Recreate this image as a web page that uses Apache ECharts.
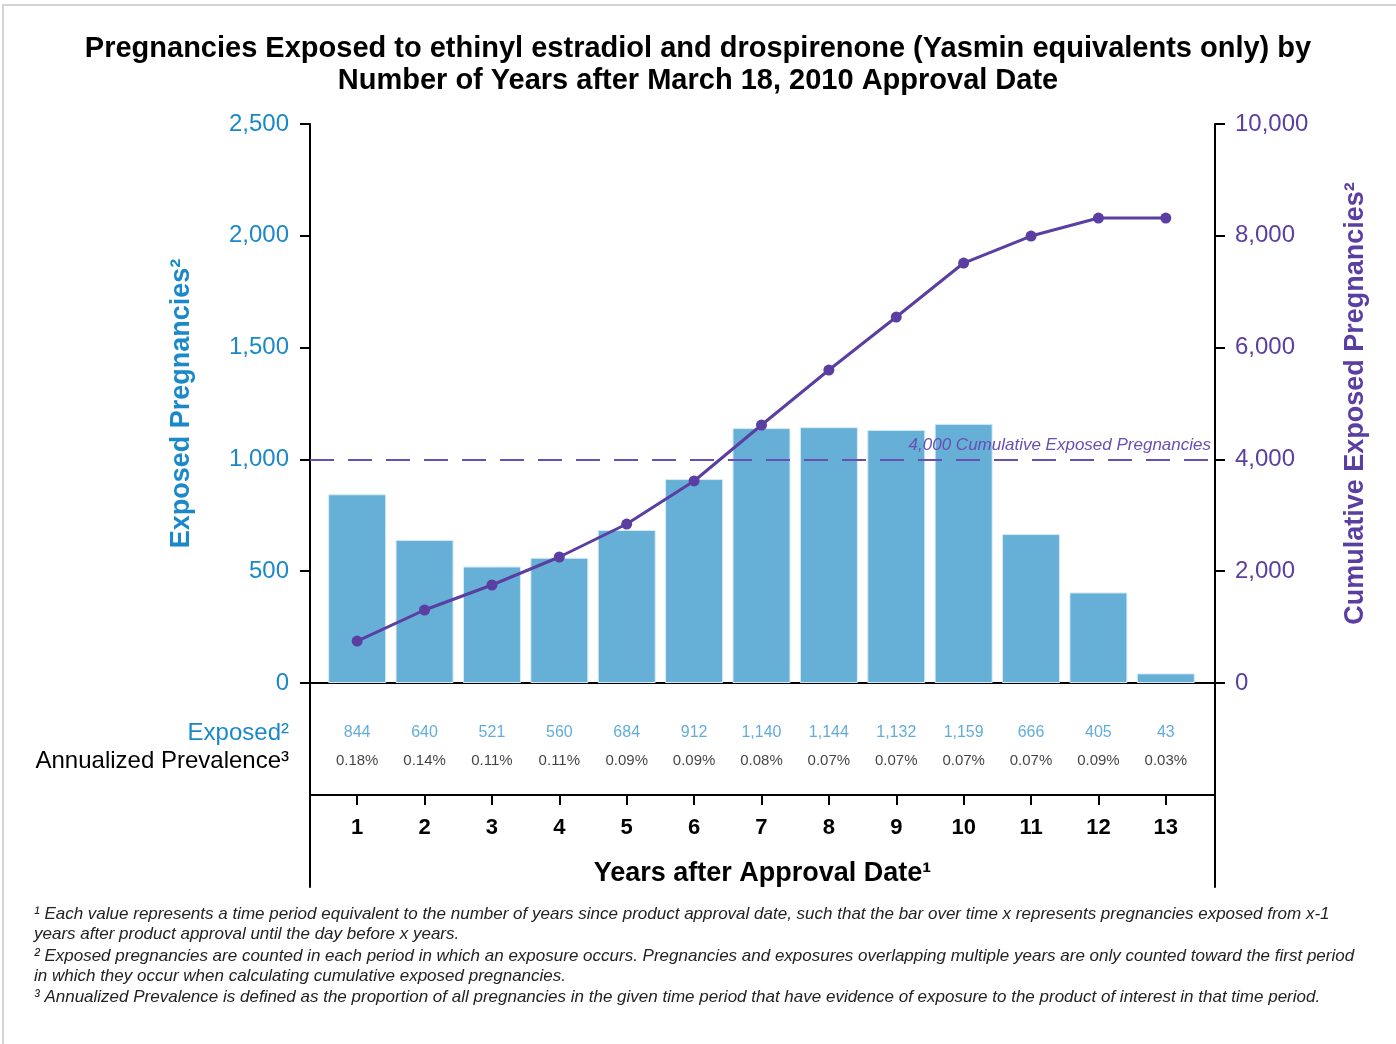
<!DOCTYPE html>
<html>
<head>
<meta charset="utf-8">
<script src="https://cdn.jsdelivr.net/npm/echarts@6/dist/echarts.min.js"></script>
<style>
html,body{margin:0;padding:0;background:#fff;}
#c{width:1396px;height:1044px;}
</style>
</head>
<body>
<div id="c"></div>
<script>
const years = [1,2,3,4,5,6,7,8,9,10,11,12,13];
const exposed = [844,640,521,560,684,912,1140,1144,1132,1159,666,405,43];
const cumulative = [751,1306,1753,2254,2844,3614,4615,5599,6547,7513,7996,8318,8318];
const prevalence = [0.18,0.14,0.11,0.11,0.09,0.09,0.08,0.07,0.07,0.07,0.07,0.09,0.03];
const threshold = 4000;
const titleText = 'Pregnancies Exposed to ethinyl estradiol and drospirenone (Yasmin equivalents only) by\nNumber of Years after March 18, 2010 Approval Date';
const footnotes = [
  '¹ Each value represents a time period equivalent to the number of years since product approval date, such that the bar over time x represents pregnancies exposed from x-1',
  'years after product approval until the day before x years.',
  '² Exposed pregnancies are counted in each period in which an exposure occurs. Pregnancies and exposures overlapping multiple years are only counted toward the first period',
  'in which they occur when calculating cumulative exposed pregnancies.',
  '³ Annualized Prevalence is defined as the proportion of all pregnancies in the given time period that have evidence of exposure to the product of interest in that time period.'
];
const footY = [913,933,955,975,996];

const FONT = '"Liberation Sans", Arial, Helvetica, sans-serif';
const BLUE = '#1a88c9';
const PURPLE = '#5a3ea1';
const BAR = '#66afd6';
const EXP_ROW = 62, PREV_ROW = 34;
const fmt = v => v.toLocaleString('en-US');

const lineOnlyAxis = (grid, pos) => ({
  type: 'value', gridIndex: grid, position: pos, min: 0, max: 1,
  axisLine: {show: true, onZero: false, lineStyle: {color: '#000', width: 2}},
  axisTick: {show: false}, axisLabel: {show: false}, splitLine: {show: false}
});

const chart = echarts.init(document.getElementById('c'));
const option = {
  backgroundColor: '#fff',
  animation: false,
  textStyle: {fontFamily: FONT},
  title: {
    text: titleText, left: 'center', top: 28,
    textStyle: {fontFamily: FONT, fontSize: 29, fontWeight: 'bold', color: '#000', lineHeight: 32}
  },
  grid: [
    {left: 310, top: 124, width: 905, height: 559},
    {left: 310, top: 683, width: 905, height: 112},
    {left: 310, top: 795, width: 905, height: 92}
  ],
  xAxis: [
    {type: 'value', gridIndex: 0, min: 0.3, max: 13.73,
     axisLine: {show: true, onZero: false, lineStyle: {color: '#000', width: 2}},
     axisTick: {show: false}, axisLabel: {show: false}, splitLine: {show: false}},
    {type: 'value', gridIndex: 1, min: 0.3, max: 13.73, position: 'bottom',
     axisLine: {show: true, onZero: false, lineStyle: {color: '#000', width: 2}},
     axisTick: {show: true, length: 10, inside: false, customValues: years, lineStyle: {color: '#000', width: 2}},
     axisLabel: {show: true, customValues: years, margin: 22, fontSize: 22, fontWeight: 'bold', color: '#000', fontFamily: FONT},
     splitLine: {show: false},
     name: 'Years after Approval Date¹', nameLocation: 'middle', nameGap: 65,
     nameTextStyle: {fontSize: 27, fontWeight: 'bold', color: '#000', fontFamily: FONT}},
    {type: 'value', gridIndex: 2, min: 0, max: 1, show: false}
  ],
  yAxis: [
    {type: 'value', gridIndex: 0, position: 'left', min: 0, max: 2500, interval: 500,
     axisLine: {show: true, lineStyle: {color: '#000', width: 2}},
     axisTick: {show: true, length: 10, lineStyle: {color: '#000', width: 2}},
     axisLabel: {margin: 21, fontSize: 24, color: BLUE, fontFamily: FONT, formatter: v => fmt(v)},
     splitLine: {show: false},
     name: 'Exposed Pregnancies²', nameLocation: 'middle', nameGap: 115,
     nameTextStyle: {fontSize: 27, fontWeight: 'bold', color: BLUE, fontFamily: FONT}},
    {type: 'value', gridIndex: 0, position: 'right', min: 0, max: 10000, interval: 2000,
     axisLine: {show: true, lineStyle: {color: '#000', width: 2}},
     axisTick: {show: true, length: 10, lineStyle: {color: '#000', width: 2}},
     axisLabel: {margin: 20, fontSize: 24, color: PURPLE, fontFamily: FONT, formatter: v => fmt(v)},
     splitLine: {show: false},
     name: 'Cumulative Exposed Pregnancies²', nameLocation: 'middle', nameGap: 127, nameRotate: 90,
     nameTextStyle: {fontSize: 27, fontWeight: 'bold', color: PURPLE, fontFamily: FONT}},
    {type: 'value', gridIndex: 1, position: 'left', min: 0, max: 112,
     axisLine: {show: true, onZero: false, lineStyle: {color: '#000', width: 2}},
     axisTick: {show: false},
     axisLabel: {show: true, customValues: [EXP_ROW, PREV_ROW], margin: 21, fontFamily: FONT,
       formatter: v => v === EXP_ROW ? '{a|Exposed²}' : '{b|Annualized Prevalence³}',
       rich: {a: {fontSize: 24, color: BLUE, fontFamily: FONT}, b: {fontSize: 24, color: '#000', fontFamily: FONT}}},
     splitLine: {show: false}},
    {type: 'value', gridIndex: 1, position: 'right', min: 0, max: 112,
     axisLine: {show: true, onZero: false, lineStyle: {color: '#000', width: 2}},
     axisTick: {show: false}, axisLabel: {show: false}, splitLine: {show: false}},
    lineOnlyAxis(2, 'left'),
    lineOnlyAxis(2, 'right')
  ],
  series: [
    {type: 'bar', xAxisIndex: 0, yAxisIndex: 0, barWidth: 58,
     data: years.map((y, i) => [y, exposed[i]]),
     itemStyle: {color: BAR, borderColor: '#d6ebf6', borderWidth: 1}},
    {type: 'line', xAxisIndex: 0, yAxisIndex: 1,
     data: years.map((y, i) => [y, cumulative[i]]),
     symbol: 'circle', symbolSize: 11,
     lineStyle: {color: PURPLE, width: 3}, itemStyle: {color: PURPLE},
     markLine: {
       silent: true, symbol: ['none', 'none'],
       lineStyle: {color: '#6a4fb3', width: 2, type: [24, 14]},
       label: {show: true, position: 'insideEndTop', formatter: fmt(threshold) + ' Cumulative Exposed Pregnancies',
               fontSize: 17, fontStyle: 'italic', color: '#6a4fb3', fontFamily: FONT, distance: [4, 6]},
       data: [{yAxis: threshold}]
     }},
    {type: 'scatter', xAxisIndex: 1, yAxisIndex: 2, symbolSize: 0,
     data: years.map((y, i) => [y, EXP_ROW, exposed[i]]),
     label: {show: true, position: 'inside', fontSize: 16, color: '#3a98cf', fontFamily: FONT,
             formatter: p => fmt(p.value[2])}},
    {type: 'scatter', xAxisIndex: 1, yAxisIndex: 2, symbolSize: 0,
     data: years.map((y, i) => [y, PREV_ROW, prevalence[i]]),
     label: {show: true, position: 'inside', fontSize: 15, color: '#111', fontFamily: FONT,
             formatter: p => p.value[2].toFixed(2) + '%'}}
  ],
  graphic: [
    {type: 'rect', shape: {x: 3, y: 5, width: 1400, height: 1045}, style: {fill: 'none', stroke: '#d4d4d4', lineWidth: 2}, silent: true}
  ].concat(footnotes.map((t, i) => ({
    type: 'text', left: 34, top: footY[i] - 7,
    style: {text: t, font: 'italic 17px ' + FONT, fill: '#222'}
  })))
};
chart.setOption(option);
</script>
</body>
</html>
